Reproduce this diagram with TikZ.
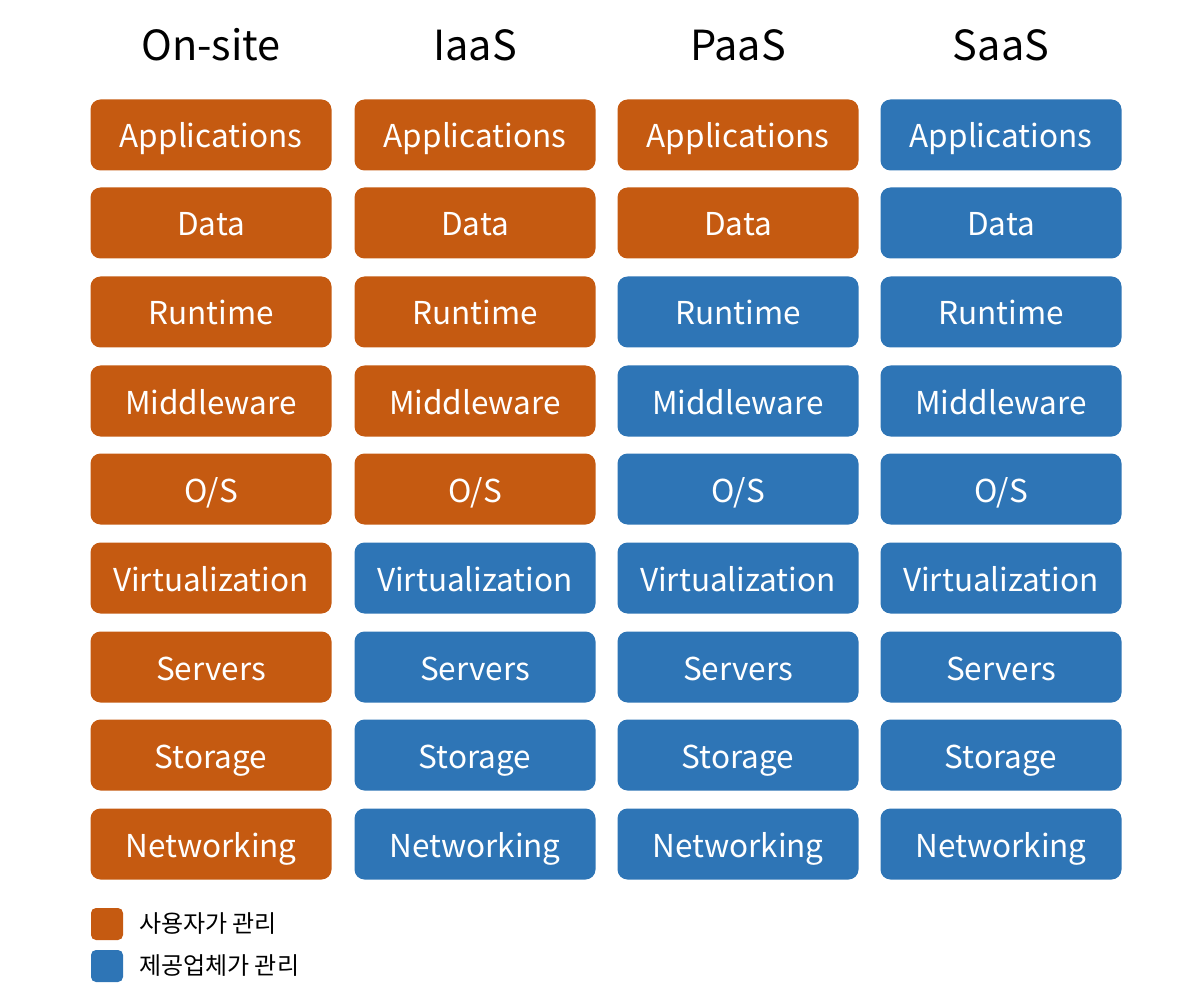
\documentclass[tikz,border=0pt]{standalone}
\usepackage{fontspec}
\setmainfont{Noto Sans CJK KR}
\usepackage{tikz}
\usetikzlibrary{positioning}
\definecolor{usercol}{HTML}{C55A11}
\definecolor{vendorcol}{HTML}{2E75B6}
\tikzset{
user layer/.style = { rectangle, fill = usercol, text = white, minimum width = 241pt, minimum height = 71pt, rounded corners = 10pt, font = \fontsize{31.5}{36}\selectfont, inner sep = 0pt, text height = 26pt, text depth = 0pt },
vendor layer/.style = { user layer, fill = vendorcol },
model title/.style = { font = \fontsize{41.5}{48}\selectfont, text = black, inner sep = 0pt, text height = 32pt, text depth = 0pt },
legend box/.style = { rectangle, minimum size = 32pt, rounded corners = 5pt, inner sep = 0pt },
legend text/.style = { anchor = west, font = \fontsize{24}{28}\selectfont, text = black, inner sep = 0pt },
}
\begin{document}
\begin{tikzpicture}[x = 1pt, y = -1pt]
      \useasboundingbox (0, 0) rectangle (1200, 1000);
      % titles
      \node[model title] (t1) at (211, 45) {On-site};
      \node[model title] (t2) at (475, 45) {IaaS};
      \node[model title] (t3) at (738, 45) {PaaS};
      \node[model title] (t4) at (1001, 45) {SaaS};
      % on-site
      \node[user layer] (c1r1) at (211, 135) {Applications};
      \node[user layer] (c1r2) at (211, 223) {Data};
      \node[user layer] (c1r3) at (211, 312) {Runtime};
      \node[user layer] (c1r4) at (211, 401) {Middleware};
      \node[user layer] (c1r5) at (211, 489) {O/S};
      \node[user layer] (c1r6) at (211, 578) {Virtualization};
      \node[user layer] (c1r7) at (211, 667) {Servers};
      \node[user layer] (c1r8) at (211, 755) {Storage};
      \node[user layer] (c1r9) at (211, 844) {Networking};
      % iaas
      \node[user layer] (c2r1) at (475, 135) {Applications};
      \node[user layer] (c2r2) at (475, 223) {Data};
      \node[user layer] (c2r3) at (475, 312) {Runtime};
      \node[user layer] (c2r4) at (475, 401) {Middleware};
      \node[user layer] (c2r5) at (475, 489) {O/S};
      \node[vendor layer] (c2r6) at (475, 578) {Virtualization};
      \node[vendor layer] (c2r7) at (475, 667) {Servers};
      \node[vendor layer] (c2r8) at (475, 755) {Storage};
      \node[vendor layer] (c2r9) at (475, 844) {Networking};
      % paas
      \node[user layer] (c3r1) at (738, 135) {Applications};
      \node[user layer] (c3r2) at (738, 223) {Data};
      \node[vendor layer] (c3r3) at (738, 312) {Runtime};
      \node[vendor layer] (c3r4) at (738, 401) {Middleware};
      \node[vendor layer] (c3r5) at (738, 489) {O/S};
      \node[vendor layer] (c3r6) at (738, 578) {Virtualization};
      \node[vendor layer] (c3r7) at (738, 667) {Servers};
      \node[vendor layer] (c3r8) at (738, 755) {Storage};
      \node[vendor layer] (c3r9) at (738, 844) {Networking};
      % saas
      \node[vendor layer] (c4r1) at (1001, 135) {Applications};
      \node[vendor layer] (c4r2) at (1001, 223) {Data};
      \node[vendor layer] (c4r3) at (1001, 312) {Runtime};
      \node[vendor layer] (c4r4) at (1001, 401) {Middleware};
      \node[vendor layer] (c4r5) at (1001, 489) {O/S};
      \node[vendor layer] (c4r6) at (1001, 578) {Virtualization};
      \node[vendor layer] (c4r7) at (1001, 667) {Servers};
      \node[vendor layer] (c4r8) at (1001, 755) {Storage};
      \node[vendor layer] (c4r9) at (1001, 844) {Networking};
      % legend
      \node[legend box, fill = usercol] (lg1) at (107, 924) {};
      \node[legend box, fill = vendorcol] (lg2) at (107, 966) {};
      \node[legend text] (lt1) at (139, 924) {사용자가 관리};
      \node[legend text] (lt2) at (139, 966) {제공업체가 관리};
\end{tikzpicture}
\end{document}
